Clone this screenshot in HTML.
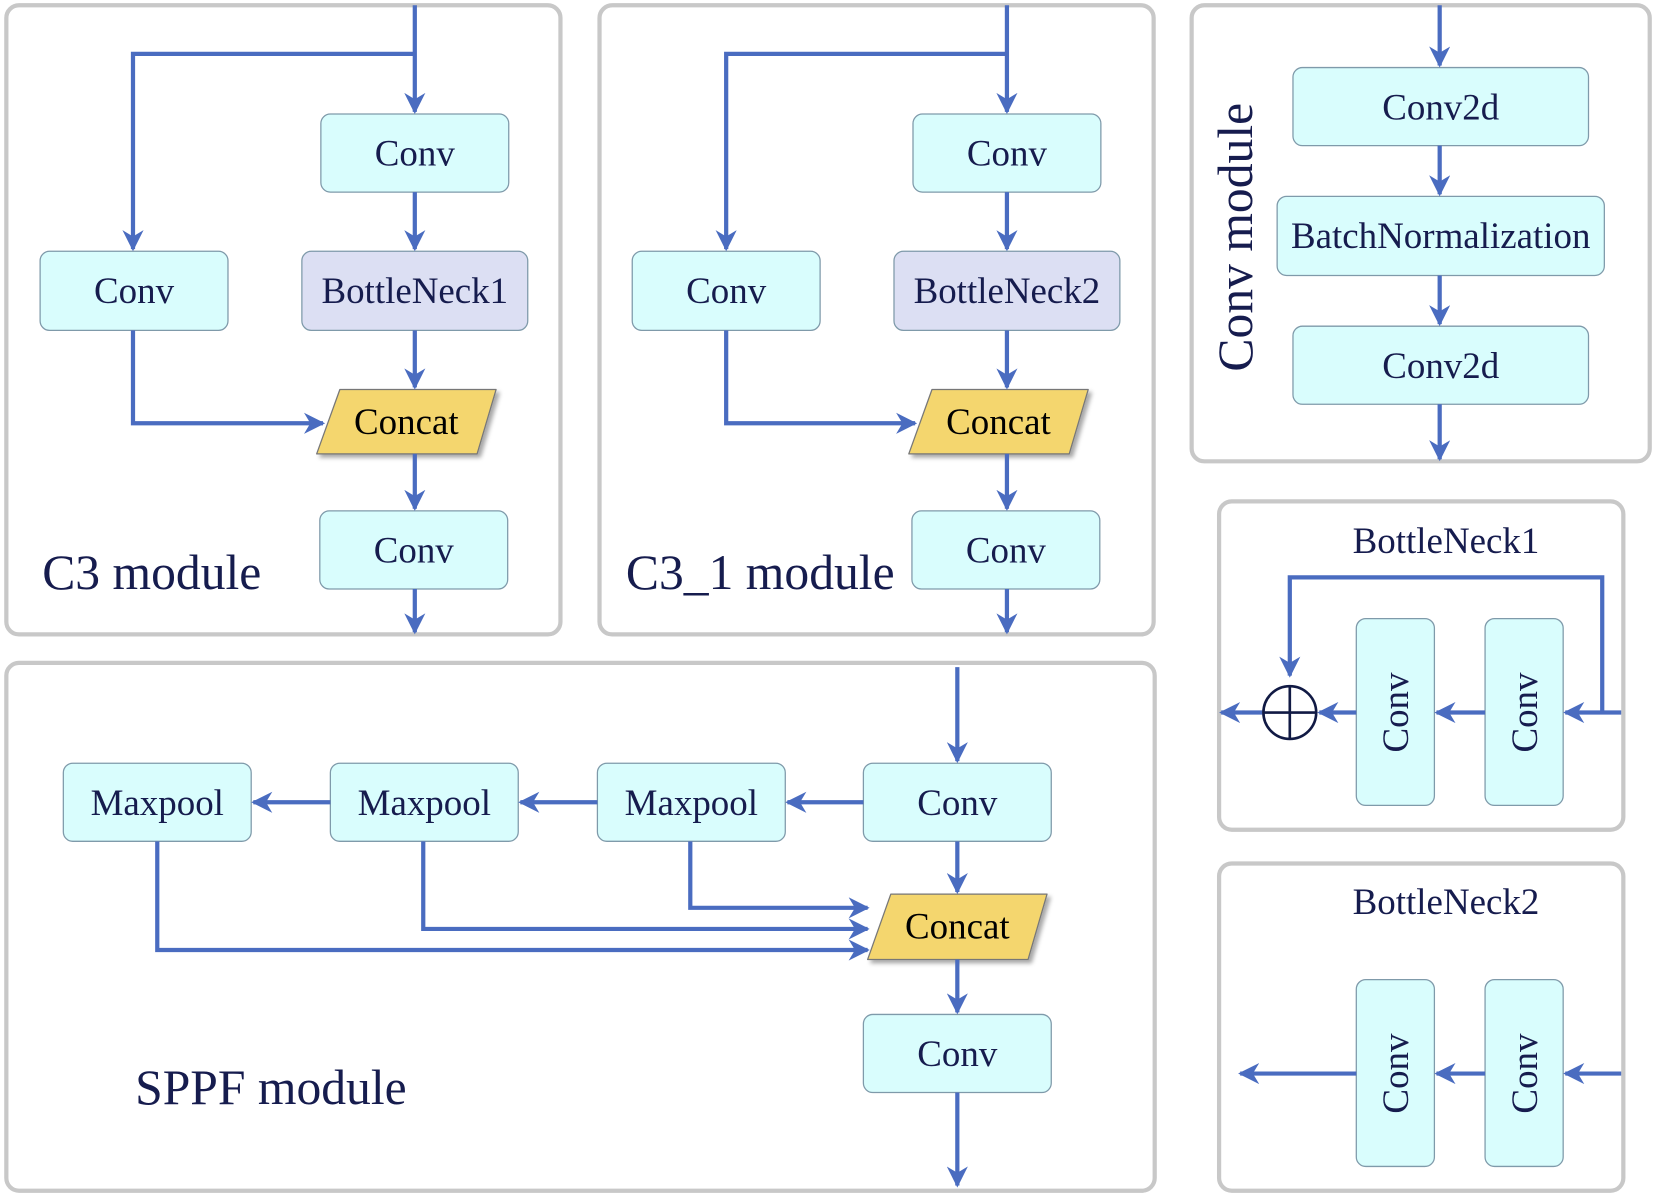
<!DOCTYPE html>
<html><head><meta charset="utf-8"><style>html,body{margin:0;padding:0;background:#fff}svg{display:block}</style></head>
<body>
<svg width="1655" height="1196" viewBox="0 0 1568 1133" preserveAspectRatio="none" xmlns="http://www.w3.org/2000/svg" font-family="Liberation Serif, serif">
<defs>
<marker id="a" viewBox="0 0 10 10" refX="9" refY="5" markerWidth="5" markerHeight="5" orient="auto"><path d="M0,0 L10,5 L0,10 L3,5 z" fill="#4a6cc0"/></marker>
<filter id="sh" x="-10%" y="-10%" width="130%" height="140%"><feDropShadow dx="3" dy="3" stdDeviation="2" flood-color="#000" flood-opacity="0.35"/></filter>
</defs>
<g fill="none" stroke="#c8c8c8" stroke-width="4">
<rect x="6" y="5" width="525" height="596" rx="12"/>
<rect x="568" y="5" width="525" height="596" rx="12"/>
<rect x="1129" y="5" width="434" height="432" rx="12"/>
<rect x="6" y="628" width="1088" height="500" rx="12"/>
<rect x="1155" y="475" width="383" height="311" rx="12"/>
<rect x="1155" y="818" width="383" height="310" rx="12"/>
</g>
<g font-size="35" fill="#161c4e" text-anchor="middle">
<g stroke="#7f9aaa" stroke-width="1.2">
<rect x="304" y="108" width="178" height="74" rx="9" fill="#d9fdfd"/>
<rect x="38" y="238" width="178" height="75" rx="9" fill="#d9fdfd"/>
<rect x="286" y="238" width="214" height="75" rx="9" fill="#dcdff3"/>
<rect x="303" y="484" width="178" height="74" rx="9" fill="#d9fdfd"/>
<path d="M322,369 L470,369 L452,430 L300,430 Z" fill="#f4d66e" stroke="#777" filter="url(#sh)" stroke-linejoin="round"/>
<rect x="865" y="108" width="178" height="74" rx="9" fill="#d9fdfd"/>
<rect x="599" y="238" width="178" height="75" rx="9" fill="#d9fdfd"/>
<rect x="847" y="238" width="214" height="75" rx="9" fill="#dcdff3"/>
<rect x="864" y="484" width="178" height="74" rx="9" fill="#d9fdfd"/>
<path d="M883,369 L1031,369 L1013,430 L861,430 Z" fill="#f4d66e" stroke="#777" filter="url(#sh)" stroke-linejoin="round"/>
<rect x="1225" y="64" width="280" height="74" rx="9" fill="#d9fdfd"/>
<rect x="1210" y="186" width="310" height="75" rx="9" fill="#d9fdfd"/>
<rect x="1225" y="309" width="280" height="74" rx="9" fill="#d9fdfd"/>
<rect x="1285" y="586" width="74" height="177" rx="9" fill="#d9fdfd"/>
<rect x="1407" y="586" width="74" height="177" rx="9" fill="#d9fdfd"/>
<rect x="1285" y="928" width="74" height="177" rx="9" fill="#d9fdfd"/>
<rect x="1407" y="928" width="74" height="177" rx="9" fill="#d9fdfd"/>
<rect x="60" y="723" width="178" height="74" rx="9" fill="#d9fdfd"/>
<rect x="313" y="723" width="178" height="74" rx="9" fill="#d9fdfd"/>
<rect x="566" y="723" width="178" height="74" rx="9" fill="#d9fdfd"/>
<rect x="818" y="723" width="178" height="74" rx="9" fill="#d9fdfd"/>
<rect x="818" y="961" width="178" height="74" rx="9" fill="#d9fdfd"/>
<path d="M844,847 L992,847 L974,909 L822,909 Z" fill="#f4d66e" stroke="#777" filter="url(#sh)" stroke-linejoin="round"/>
</g>
<text x="393" y="157">Conv</text>
<text x="127" y="287">Conv</text>
<text x="393" y="287">BottleNeck1</text>
<text x="385" y="411" fill="#000">Concat</text>
<text x="392" y="533">Conv</text>
<text x="954" y="157">Conv</text>
<text x="688" y="287">Conv</text>
<text x="954" y="287">BottleNeck2</text>
<text x="946" y="411" fill="#000">Concat</text>
<text x="953" y="533">Conv</text>
<text x="1365" y="113">Conv2d</text>
<text x="1365" y="235">BatchNormalization</text>
<text x="1365" y="358">Conv2d</text>
<text x="1370" y="524">BottleNeck1</text>
<text x="1370" y="866">BottleNeck2</text>
<text transform="translate(1334,675) rotate(-90)">Conv</text>
<text transform="translate(1456,675) rotate(-90)">Conv</text>
<text transform="translate(1334,1017) rotate(-90)">Conv</text>
<text transform="translate(1456,1017) rotate(-90)">Conv</text>
<text x="149" y="772">Maxpool</text>
<text x="402" y="772">Maxpool</text>
<text x="655" y="772">Maxpool</text>
<text x="907" y="772">Conv</text>
<text x="907" y="889" fill="#000">Concat</text>
<text x="907" y="1010">Conv</text>
<g font-size="47" text-anchor="start">
<text x="40" y="558">C3 module</text>
<text x="593" y="558">C3_1 module</text>
<text x="128" y="1046">SPPF module</text>
<text transform="translate(1186,352) rotate(-90)">Conv module</text>
</g>
</g>
<g stroke="#4a6cc0" stroke-width="4" fill="none" marker-end="url(#a)">
<path d="M393,5 V106"/><path d="M393,51 H126 V236"/><path d="M393,182 V236"/><path d="M393,313 V367"/><path d="M393,430 V482"/><path d="M393,558 V599"/><path d="M126,313 V401 H306"/>
<path d="M954,5 V106"/><path d="M954,51 H688 V236"/><path d="M954,182 V236"/><path d="M954,313 V367"/><path d="M954,430 V482"/><path d="M954,558 V599"/><path d="M688,313 V401 H867"/>
<path d="M1364,5 V62"/><path d="M1364,138 V184"/><path d="M1364,261 V307"/><path d="M1364,383 V435"/>
<path d="M1536,675 H1483"/><path d="M1407,675 H1361"/><path d="M1285,675 H1250"/><path d="M1196,675 H1157"/>
<path d="M1518,675 V547 H1222 V640"/>
<path d="M1536,1017 H1483"/><path d="M1407,1017 H1361"/><path d="M1285,1017 H1175"/>
<path d="M907,632 V721"/><path d="M818,760 H746"/><path d="M566,760 H493"/><path d="M313,760 H240"/>
<path d="M907,797 V845"/><path d="M907,909 V959"/><path d="M907,1035 V1123"/>
<path d="M654,797 V860 H822"/><path d="M401,797 V880 H822"/><path d="M149,797 V900 H822"/>
</g>
<g stroke="#111a44" stroke-width="2.5" fill="none">
<circle cx="1222" cy="675" r="25"/><path d="M1197,675 H1247 M1222,650 V700"/>
</g>
</svg>
</body></html>
